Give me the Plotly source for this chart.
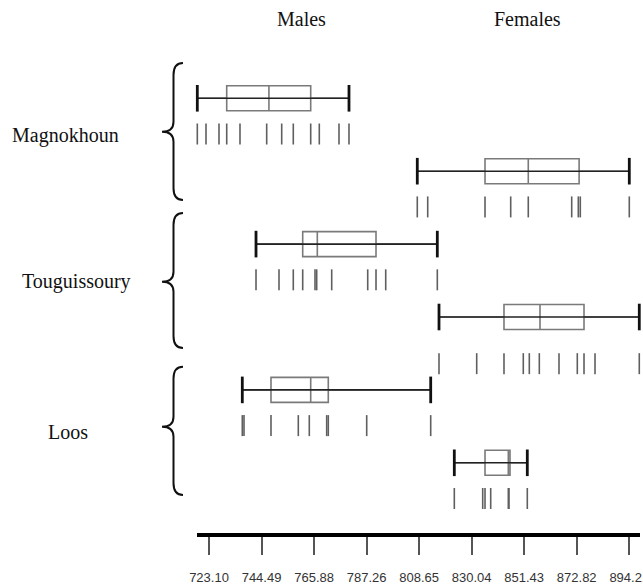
import plotly.graph_objects as go

# ---------------- data ----------------
groups = ["Magnokhoun", "Touguissoury", "Loos"]
sexes = ["Males", "Females"]

# rug (individual observations) per row
mag_males = [718.34, 721.88, 727.17, 730.31, 735.72, 746.59, 752.70, 757.42, 764.51, 768.01, 776.03, 780.10]
mag_females = [807.91, 812.15, 835.48, 845.94, 853.10, 870.78, 873.47, 874.28, 894.23]
tou_males = [742.24, 751.60, 757.42, 761.25, 766.26, 766.95, 773.06, 787.72, 791.10, 795.05, 816.06]
tou_females = [816.75, 832.10, 843.21, 851.07, 853.52, 857.59, 865.61, 873.06, 875.79, 880.27, 898.30]
loos_males = [736.66, 737.35, 748.34, 759.46, 763.94, 771.02, 771.67, 787.31, 813.37]
loos_females = [822.98, 834.54, 835.48, 837.80, 844.97, 845.25, 852.70]

# box statistics per row (Mag M, Mag F, Tou M, Tou F, Loos M, Loos F)
lower_fence = [718.34, 807.91, 742.24, 816.75, 736.66, 822.98]
q1 = [730.31, 835.48, 761.25, 843.21, 748.34, 835.48]
median = [747.50, 853.10, 767.20, 857.87, 764.51, 844.97]
q3 = [764.51, 873.80, 791.10, 875.79, 771.67, 845.66]
upper_fence = [780.10, 894.23, 816.06, 898.30, 813.37, 852.70]

tick_vals = [723.10, 744.49, 765.88, 787.26, 808.65, 830.04, 851.43, 872.82, 894.21]
tick_text = ["723.10", "744.49", "765.88", "787.26", "808.65", "830.04", "851.43", "872.82", "894.21"]

rugs = [mag_males, mag_females, tou_males, tou_females, loos_males, loos_females]

# ---------------- layout geometry ----------------
W, H = 643, 588
PLOT_L, PLOT_R, PLOT_T, PLOT_B = 197, 640, 50, 533   # page pixels
L, R, T, B = PLOT_L, W - PLOT_R, PLOT_T, H - PLOT_B
PW, PH = PLOT_R - PLOT_L, PLOT_B - PLOT_T
ROW0, ROWSTEP = 98.3, 72.9
ybot = (PLOT_B - ROW0) / ROWSTEP
ytop = (PLOT_T - ROW0) / ROWSTEP
rug_offset = [0.49, 0.49, 0.49, 0.64, 0.49, 0.49]
rows = list(range(6))
PXU = 2.456                 # pixels per unit on x


def px(x):
    return (x - PLOT_L) / PW


def py(y):
    return (PLOT_B - y) / PH


fig = go.Figure()

fig.add_trace(go.Box(
    y=rows, q1=q1, median=median, q3=q3,
    lowerfence=lower_fence, upperfence=upper_fence,
    orientation="h", width=0.343, whiskerwidth=0,
    line=dict(color="#7a7a7a", width=1.6),
    fillcolor="rgba(255,255,255,0)", boxpoints=False,
    hoverinfo="skip", showlegend=False,
))

# whisker line through the box, and end caps
for k in rows:
    fig.add_trace(go.Scatter(
        x=[lower_fence[k], upper_fence[k]], y=[k, k], mode="lines+markers",
        line=dict(color="#222222", width=1.6),
        marker=dict(symbol="line-ns", size=19, line=dict(color="#111111", width=2.8)),
        showlegend=False, hoverinfo="skip", cliponaxis=False,
    ))

# rug ticks
for k, vals in enumerate(rugs):
    fig.add_trace(go.Scatter(
        x=vals, y=[k + rug_offset[k]] * len(vals), mode="markers",
        marker=dict(symbol="line-ns", size=15, line=dict(color="#5f5f5f", width=1.6)),
        showlegend=False, hoverinfo="skip", cliponaxis=False,
    ))

# curly braces
shapes = []
for (top, tip, bot) in [(63, 131.7, 200), (213, 281.7, 348), (366.7, 426.7, 495)]:
    xr, xv, xt = 183, 173.5, 162
    pts = (f"M {px(xr)},{py(top)} Q {px(xv)},{py(top)} {px(xv)},{py(top + 12)} "
           f"L {px(xv)},{py(tip - 10)} Q {px(xv)},{py(tip)} {px(xt)},{py(tip)} "
           f"Q {px(xv)},{py(tip)} {px(xv)},{py(tip + 10)} "
           f"L {px(xv)},{py(bot - 12)} Q {px(xv)},{py(bot)} {px(xr)},{py(bot)}")
    shapes.append(dict(type="path", path=pts, xref="paper", yref="paper",
                       line=dict(color="#111111", width=2)))

serif = "Liberation Serif, Times New Roman, serif"
annotations = []
for label, cx, cy in [("Males", 301, 19), ("Females", 527, 19)]:
    annotations.append(dict(text=label, x=px(cx), y=py(cy), xref="paper", yref="paper",
                            showarrow=False, xanchor="center", yanchor="middle",
                            font=dict(family=serif, size=20, color="#111111")))
for label, cx, cy in [("Magnokhoun", 65, 135), ("Touguissoury", 76, 281), ("Loos", 68, 432)]:
    annotations.append(dict(text=label, x=px(cx), y=py(cy), xref="paper", yref="paper",
                            showarrow=False, xanchor="center", yanchor="middle",
                            font=dict(family=serif, size=20, color="#111111")))

fig.update_layout(
    width=W, height=H, autosize=False, margin=dict(l=L, r=R, t=T, b=B, pad=0),
    paper_bgcolor="white", plot_bgcolor="white",
    shapes=shapes, annotations=annotations,
    xaxis=dict(
        range=[723.10 + (PLOT_L - 209) / PXU, 723.10 + (PLOT_R - 209) / PXU],
        tickvals=tick_vals, ticktext=tick_text, automargin=False,
        showgrid=False, zeroline=False,
        showline=True, linecolor="black", linewidth=4,
        ticks="outside", ticklen=18, tickwidth=1.5, tickcolor="#555555",
        tickfont=dict(family="Liberation Sans, Arial, sans-serif", size=13, color="#333333"),
        ticklabelstandoff=11, ticklabeloverflow="allow",
    ),
    yaxis=dict(range=[ybot, ytop], visible=False, showgrid=False, zeroline=False,
               automargin=False),
)

fig.write_html(
    "out.html",
    config={"responsive": False, "displayModeBar": False},
    post_script="document.body.style.margin='0';document.body.style.overflow='hidden';",
)
